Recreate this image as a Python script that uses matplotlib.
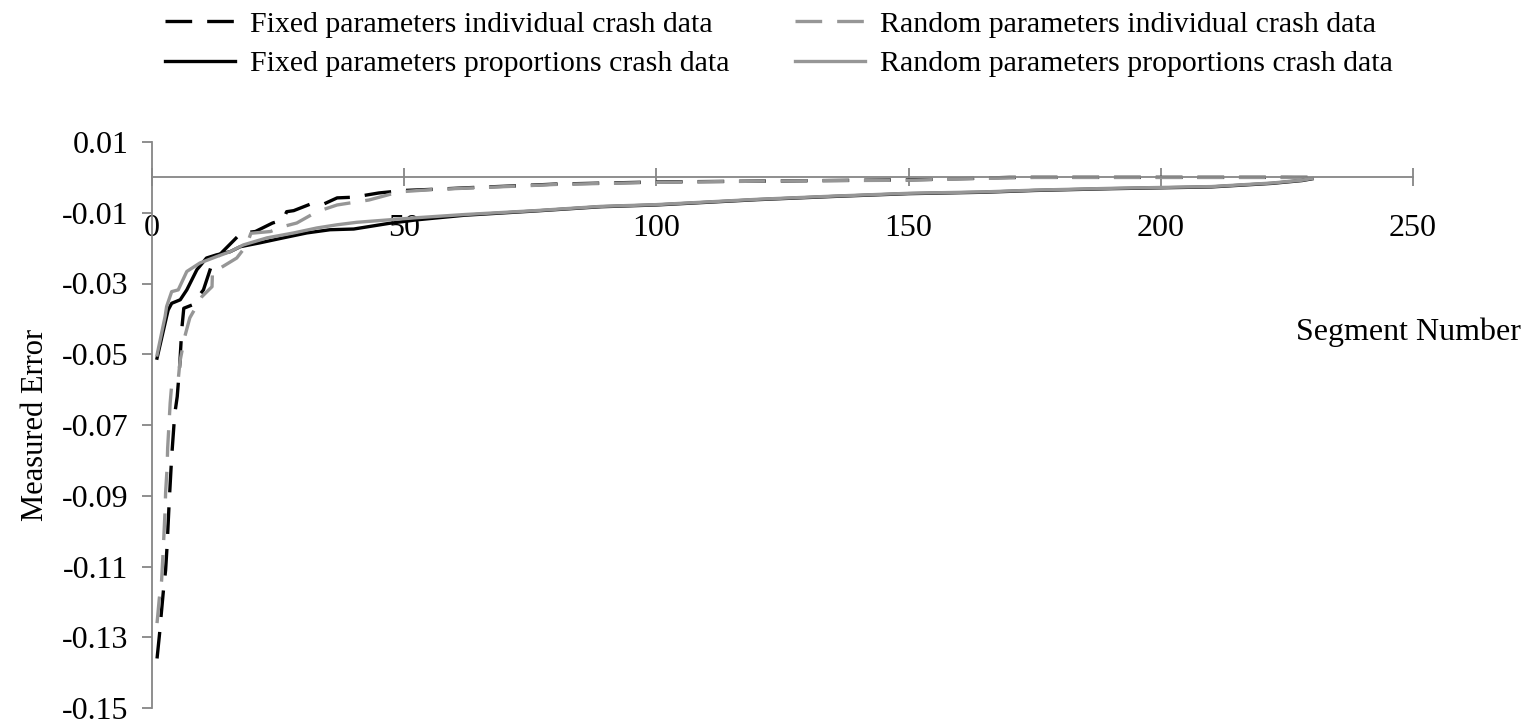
import matplotlib
matplotlib.use("Agg")
import matplotlib.pyplot as plt

plt.rcParams["font.family"] = ["Liberation Serif", "DejaVu Serif"]
plt.rcParams["axes.unicode_minus"] = False

# values (segment number, measured error)
fi_x = [1.0, 1.5, 1.8, 2.25, 2.7, 3.0, 3.4, 3.9, 4.5, 5.0, 5.5, 5.9, 6.3, 7.9, 10.2,
        12.0, 14.0, 16.3, 17.6, 20.5, 23.9, 26.0, 26.7, 28.1, 31.5, 34.1, 36.7,
        40.0, 45.0, 50.0, 57.0, 63.0, 72.0, 80.0, 90.0, 100.0, 125.0, 150.0,
        165.0, 170.0, 230.0]
fi_y = [-0.136, -0.129, -0.124, -0.117, -0.111, -0.104, -0.092, -0.079, -0.067,
        -0.062, -0.053, -0.043, -0.037, -0.0361, -0.0318, -0.024, -0.021, -0.0177,
        -0.0158, -0.0153, -0.0129, -0.012, -0.0097, -0.0094, -0.0075, -0.0075,
        -0.0058, -0.0056, -0.0044, -0.0037, -0.0033, -0.0029, -0.0024, -0.0019,
        -0.0016, -0.0013, -0.0010, -0.0007, -0.0002, 0.0, 0.0]

ri_x = [1.0, 1.45, 1.9, 2.2, 2.6, 2.7, 3.0, 3.1, 3.4, 3.6, 3.9, 5.2, 5.55, 6.5,
        7.5, 9.9, 11.9, 12.0, 13.8, 16.8, 18.8, 19.6, 23.5, 26.0, 28.7, 32.7,
        36.7, 43.0, 49.0, 55.0, 63.0, 72.0, 80.0, 90.0, 100.0, 125.0, 150.0,
        165.0, 175.0, 225.0, 230.0]
ri_y = [-0.126, -0.119, -0.114, -0.106, -0.094, -0.089, -0.082, -0.0766, -0.069,
        -0.0638, -0.0587, -0.0572, -0.052, -0.045, -0.0397, -0.0337, -0.0309,
        -0.0262, -0.0254, -0.0228, -0.0191, -0.0158, -0.0153, -0.0139, -0.0129,
        -0.0097, -0.0078, -0.0064, -0.0041, -0.0035, -0.0030, -0.0025, -0.0020,
        -0.0017, -0.0014, -0.0010, -0.0008, -0.0003, 0.0, 0.0, -0.0003]

fp_x = [1.0, 2.9, 3.2, 3.9, 5.6, 6.9, 8.9, 10.8, 12.8, 15.5, 17.5, 21.4, 26.0,
        30.7, 35.3, 40.0, 47.0, 52.5, 62.0, 76.0, 89.0, 100.0, 120.0, 135.0,
        150.0, 165.0, 175.0, 190.0, 210.0, 222.0, 228.0, 230.0]
fp_y = [-0.0511, -0.0393, -0.0375, -0.0356, -0.0346, -0.0318, -0.0261, -0.0228,
        -0.0219, -0.0210, -0.0196, -0.0185, -0.0171, -0.0157, -0.0148, -0.0146,
        -0.0130, -0.0120, -0.0107, -0.0095, -0.0083, -0.0078, -0.0063, -0.0054,
        -0.0046, -0.0042, -0.0037, -0.0032, -0.0027, -0.0017, -0.0009, -0.0004]

rp_x = [1.0, 2.6, 2.9, 3.9, 5.2, 6.9, 9.5, 12.8, 15.5, 18.1, 22.8, 28.1, 32.7,
        36.7, 40.6, 52.5, 62.0, 76.0, 89.0, 100.0, 120.0, 135.0, 150.0, 165.0,
        175.0, 190.0, 210.0, 222.0, 228.0, 230.0]
rp_y = [-0.0502, -0.0393, -0.0365, -0.0323, -0.0318, -0.0266, -0.0242, -0.0224,
        -0.0210, -0.0191, -0.0171, -0.0157, -0.0143, -0.0134, -0.0127, -0.0114,
        -0.0105, -0.0094, -0.0082, -0.0077, -0.0062, -0.0053, -0.0045, -0.0041,
        -0.0036, -0.0031, -0.0026, -0.0016, -0.0008, -0.0003]

x_ticks = [0, 50, 100, 150, 200, 250]
y_ticks = [0.01, -0.01, -0.03, -0.05, -0.07, -0.09, -0.11, -0.13, -0.15]

GRAY = "#969696"
AXIS = "#868686"
FS = 23
FS_LEG = 21.5

fig = plt.figure(figsize=(15.34, 7.24), dpi=100)
ax = fig.add_axes([152 / 1534, 1 - 708 / 724, (1413 - 152) / 1534, (708 - 142) / 724])

lw = 2.4
h1, = ax.plot(fi_x, fi_y, color="black", lw=lw, dashes=(8, 4.5),
              label="Fixed parameters individual crash data")
h3, = ax.plot(ri_x, ri_y, color=GRAY, lw=lw, dashes=(8, 4.5),
              label="Random parameters individual crash data")
h2, = ax.plot(fp_x, fp_y, color="black", lw=lw,
              label="Fixed parameters proportions crash data")
h4, = ax.plot(rp_x, rp_y, color=GRAY, lw=lw,
              label="Random parameters proportions crash data")

ax.set_xlim(0, 250)
ax.set_ylim(-0.15, 0.01)
for s in ["top", "right"]:
    ax.spines[s].set_visible(False)
ax.spines["bottom"].set_position(("data", 0))
ax.spines["left"].set_color(AXIS)
ax.spines["bottom"].set_color(AXIS)
ax.spines["left"].set_linewidth(1.3)
ax.spines["bottom"].set_linewidth(1.3)

ax.set_xticks(x_ticks)
ax.set_yticks(y_ticks)
ax.set_yticklabels([f"{v:.2f}" for v in y_ticks])
ax.tick_params(axis="x", direction="inout", length=13, width=1.3, color=AXIS,
               labelsize=FS, pad=20)
ax.tick_params(axis="y", direction="out", length=7, width=1.3, color=AXIS,
               labelsize=FS, pad=10)

ax.set_ylabel("Measured Error", fontsize=22)
ax.yaxis.set_label_coords(-0.081, 0.5)
ax.text(1521 / 1534, 1 - 340 / 724, "Segment Number", transform=fig.transFigure,
        ha="right", va="baseline", fontsize=FS)

fig.legend(handles=[h1, h2, h3, h4], ncol=2, loc="upper left",
           bbox_to_anchor=(165 / 1534, 1 - 11 / 724), frameon=False,
           fontsize=FS_LEG, borderpad=0, borderaxespad=0,
           handlelength=2.35, handletextpad=0.5, columnspacing=2.2,
           labelspacing=0.42)

fig.savefig("out.png", dpi=100)
